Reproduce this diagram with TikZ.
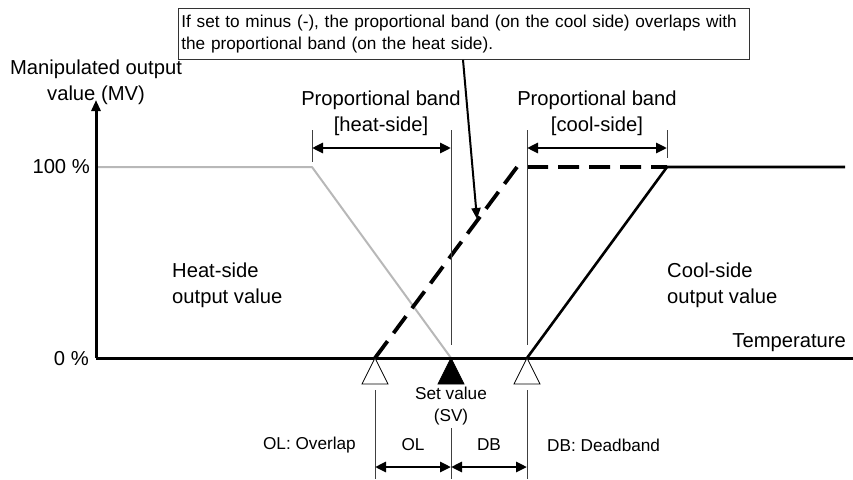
\documentclass[tikz,border=0pt]{standalone}
\usepackage{fontspec}
\setmainfont{Liberation Sans}
\usetikzlibrary{arrows.meta}
\begin{document}
\begin{tikzpicture}[x=1pt,y=-1pt,
  axis/.style={line width=3pt},
  thinline/.style={line width=0.8pt, draw=black!75},
  dimarrow/.style={line width=2.8pt,{Triangle[length=11pt,width=10pt]}-{Triangle[length=11pt,width=10pt]}},
  big/.style={font=\fontsize{20.2}{26}\selectfont, inner sep=0pt},
  mid/.style={font=\fontsize{17.2}{22}\selectfont, inner sep=0pt},
  small/.style={font=\fontsize{17.2}{22}\selectfont, inner sep=0pt},
  tri/.style={line width=0.7pt, line join=miter},
]
\useasboundingbox (0,0) rectangle (853,479);
% key coordinates
\coordinate (origin) at (96,358);
\coordinate (ytop) at (96,100);
\coordinate (xend) at (853,358);
\coordinate (h100) at (96,167);
\coordinate (hk) at (312,167);
\coordinate (sv) at (451,358);
\coordinate (ol) at (375,358);
\coordinate (db) at (527,358);
\coordinate (dk) at (517,167);
\coordinate (dend) at (667,167);
\coordinate (ck) at (667,167);
\coordinate (cend) at (845,167);

% heat-side output (grey)
\draw[line width=2pt, draw=black!28, line join=round] (h100) -- (hk) -- (sv);
% axes
\draw[axis, -{Triangle[length=11pt,width=9pt]}] (origin) -- (ytop);
\draw[axis] (origin) -- (xend);
% dashed overlapped cool-side
\draw[line width=3.8pt, dash pattern=on 21pt off 10pt] (ol) -- (dk) -- (dend);
% cool-side output
\draw[line width=2.6pt] (db) -- (ck) -- (cend);

% upper vertical thin lines
\coordinate (v1a) at (312,130); \coordinate (v1b) at (312,162);
\coordinate (v2a) at (451,130); \coordinate (v2b) at (451,345);
\coordinate (v3a) at (527,130); \coordinate (v3b) at (527,345);
\coordinate (v4a) at (667,130); \coordinate (v4b) at (667,158);
\draw[thinline] (v1a) -- (v1b);
\draw[thinline] (v2a) -- (v2b);
\draw[thinline] (v3a) -- (v3b);
\draw[thinline] (v4a) -- (v4b);
% band arrows
\coordinate (hb1) at (312,148); \coordinate (hb2) at (451,148);
\coordinate (cb1) at (527,148); \coordinate (cb2) at (667,148);
\draw[dimarrow] (hb1) -- (hb2);
\draw[dimarrow] (cb1) -- (cb2);

% lower vertical thin lines
\coordinate (l1a) at (375,390); \coordinate (l1b) at (375,479);
\coordinate (l2a) at (451,428); \coordinate (l2b) at (451,479);
\coordinate (l3a) at (527,390); \coordinate (l3b) at (527,479);
\draw[thinline] (l1a) -- (l1b);
\draw[thinline] (l2a) -- (l2b);
\draw[thinline] (l3a) -- (l3b);
\coordinate (ob1) at (375,467); \coordinate (ob2) at (451,467); \coordinate (ob3) at (527,467);
\draw[dimarrow] (ob1) -- (ob2);
\draw[dimarrow] (ob2) -- (ob3);

% triangles
\draw[tri, fill=white] (ol) -- ++(13,26) -- ++(-26,0) -- cycle;
\draw[tri, fill=black] (sv) -- ++(13,26) -- ++(-26,0) -- cycle;
\draw[tri, fill=white] (db) -- ++(13,26) -- ++(-26,0) -- cycle;

% labels
\node[big, align=center] (mv) at (96,82) {Manipulated output\\value (MV)};
\node[big, anchor=east] (p100) at (90,167) {100 \%};
\node[big, anchor=east] (p0) at (89,359) {0 \%};
\node[big, align=center] (hbl) at (381,113) {Proportional band\\{}[heat-side]};
\node[big, align=center] (cbl) at (597,113) {Proportional band\\{}[cool-side]};
\node[big, align=left, anchor=west] (hso) at (172,285) {Heat-side\\output value};
\node[big, align=left, anchor=west] (cso) at (667,285) {Cool-side\\output value};
\node[big, anchor=east] (temp) at (846,343) {Temperature};
\node[mid, align=center] (svl) at (451,406) {Set value\\(SV)};
\node[mid, anchor=east] (oll) at (356,445) {OL: Overlap};
\node[mid] (olt) at (413,445) {OL};
\node[mid] (dbt) at (489,445) {DB};
\node[mid, anchor=west] (dbl) at (547,445) {DB: Deadband};

% callout
\node[small, draw=black!80, line width=0.8pt, align=left, anchor=north west,
      inner xsep=3pt, inner ysep=6.5pt, text width=565pt] (callout) at (178,8)
  {If set to minus (-), the proportional band (on the cool side) overlaps with\\the proportional band (on the heat side).};
\coordinate (cto) at (477,219);
\draw[line width=2pt, -{Triangle[length=11pt,width=9pt]}] (callout.south -| 463,0) -- (cto);
\end{tikzpicture}
\end{document}
